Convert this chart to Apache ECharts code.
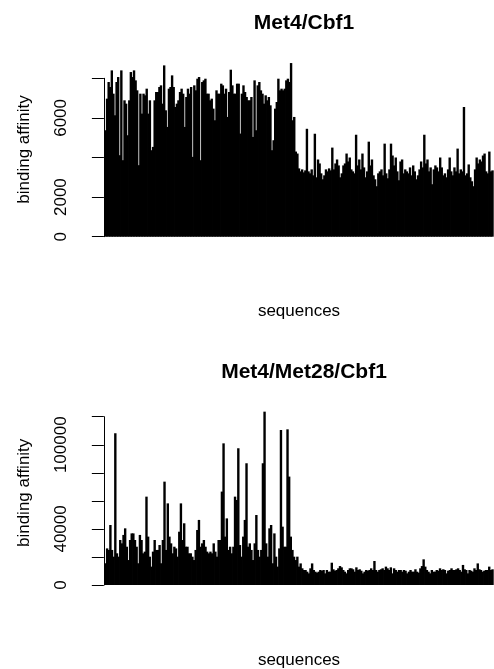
<!DOCTYPE html>
<html>
<head>
<meta charset="utf-8">
<script src="https://cdn.jsdelivr.net/npm/echarts@6/dist/echarts.min.js"></script>
<style>
  html, body { margin: 0; padding: 0; background: #fff; }
  #chart { width: 494px; height: 669px; }
</style>
</head>
<body>
<div id="chart"></div>
<script>
// binding affinity per sequence
var cbf1Affinity = [
  5376, 6972, 7812, 7560, 8400, 7224, 6132, 7812, 8064, 4116,
  8400, 3864, 6888, 6720, 5124, 6888, 8316, 8064, 8400, 7896,
  7392, 3612, 7224, 6216, 7224, 7140, 7476, 6216, 6888, 4368,
  4536, 6888, 7308, 7308, 7560, 7644, 6720, 8652, 6384, 5544,
  7476, 7560, 8148, 7560, 6552, 6720, 6888, 7308, 7476, 7224,
  5544, 7056, 7476, 7224, 7560, 4032, 7644, 7392, 7980, 8064,
  3864, 7812, 7896, 7980, 7224, 7224, 6888, 6972, 6468, 5880,
  7392, 7224, 7224, 7728, 7644, 7224, 7476, 6048, 7308, 8434,
  7644, 7224, 7224, 7728, 7728, 5208, 7224, 7644, 7308, 7056,
  6888, 6888, 7056, 5040, 7896, 5376, 7644, 7812, 7392, 7224,
  6720, 7140, 6888, 7056, 6636, 4368, 4872, 6468, 6804, 7980,
  7392, 7476, 7392, 7476, 7896, 7980, 7812, 8770, 5880, 6048,
  4300, 4200, 3450, 3300, 3400, 3250, 3350, 5450, 3300, 3200,
  3400, 3100, 5200, 3000, 3900, 3700, 3200, 2900, 3100, 3400,
  3300, 3450, 3350, 4500, 3400, 3700, 3900, 3600, 3000, 3200,
  3600, 3700, 4200, 3800, 4000, 3400, 3300, 3200, 5150, 3600,
  3900, 3400, 4200, 3500, 3000, 3300, 4800, 3600, 3900, 3100,
  2900, 2550, 3200, 3300, 3400, 3100, 4700, 3200, 2950, 3400,
  4700, 4100, 3600, 4000, 3300, 2850, 3800, 3900, 3200, 3400,
  3300, 3200, 3500, 3100, 3600, 3300, 2900, 3100, 3400, 3800,
  3500, 5150, 3700, 3900, 3300, 3500, 2650, 3400, 3600, 3500,
  3300, 4000, 3500, 3100, 3200, 3000, 3400, 4000, 3300, 3100,
  3500, 3300, 4450, 3200, 3400, 3300, 6550, 3100, 3200, 3650,
  3000, 2800, 2550, 3400, 4000, 3700, 3900, 3800, 4100, 4200,
  3300, 3200, 4300, 3300, 3350
];

var met28Affinity = [
  15500, 26100, 25000, 42800, 25000, 20200, 108200, 22600, 20200, 32100,
  29700, 35700, 40400, 27300, 17800, 32100, 36800, 36800, 32100, 27300,
  15500, 35700, 32100, 22600, 23800, 63000, 34500, 20200, 13100, 23800,
  32100, 25000, 25000, 28500, 15500, 32100, 73700, 25000, 58200, 34500,
  29700, 22600, 27300, 26100, 20200, 38000, 58200, 32100, 44000, 27300,
  27300, 22600, 22600, 20200, 17800, 25000, 39200, 46400, 27300, 29700,
  32100, 27300, 23800, 22600, 23800, 22600, 29700, 23800, 20200, 32100,
  32100, 66600, 101000, 34500, 47500, 25000, 27300, 22600, 27300, 63000,
  60600, 97500, 28500, 20200, 34500, 46400, 86800, 27300, 29700, 25000,
  17800, 29700, 49900, 25000, 20200, 25000, 86800, 123600, 29700, 20200,
  40400, 42800, 15500, 36800, 20200, 13100, 26100, 110500, 41600, 27300,
  27300, 111000, 77300, 34500, 25000, 20200, 17800, 20200, 13100,
  15400, 11900, 10700, 10700, 9500, 8300, 11900, 15400, 10700, 9500,
  8800, 9500, 10700, 10200, 10700, 8300, 10700, 9500, 9500, 15900,
  11200, 10200, 10700, 11900, 13500, 12600, 10700, 9500, 8300, 10700,
  11900, 11900, 11200, 9500, 12600, 10700, 11200, 10200, 8300, 9500,
  10700, 10200, 10700, 11900, 10700, 17100, 10700, 9500, 10700, 11200,
  11900, 10700, 13100, 11900, 10700, 12600, 8300, 11900, 10700, 9500,
  10700, 10700, 9500, 10700, 10200, 8300, 9500, 10700, 9500, 9500,
  11200, 9500, 8800, 11900, 13500, 18300, 13100, 10700, 9500, 8300,
  10700, 9500, 9500, 10700, 10200, 11900, 10700, 11200, 10700, 8300,
  10200, 10700, 11900, 10700, 10700, 11200, 11900, 10700, 9500, 14300,
  11200, 10700, 8300, 10700, 10200, 9500, 11900, 10700, 15400, 11200,
  10700, 9500, 10200, 10700, 10700, 13100, 10700, 11200
];

var panelTitles = ['Met4/Cbf1', 'Met4/Met28/Cbf1'];
var cbf1Ticks = { min: 0, max: 8000, step: 2000 };
var met28Ticks = { min: 0, max: 120000, step: 20000 };
// R drops the labels that would overlap
var cbf1Labels = [0, 2000, 6000];
var met28Labels = [0, 40000, 100000];

var font = '"Liberation Sans", Arial, Helvetica, sans-serif';

function xRange(n) {
  // R's default 4% padding around 1..n
  var pad = 0.04 * (n - 1);
  return { min: 1 - pad, max: n + pad };
}

function makeX(idx, n) {
  var r = xRange(n);
  return {
    type: 'value', gridIndex: idx, min: r.min, max: r.max,
    axisLine: { show: false }, axisTick: { show: false },
    axisLabel: { show: false }, splitLine: { show: false },
    name: 'sequences', nameLocation: 'middle', nameGap: idx === 0 ? 66 : 67,
    nameTextStyle: { fontFamily: font, fontSize: 17, color: '#000' }
  };
}

function makeY(idx, ticks, shown) {
  return {
    type: 'value', gridIndex: idx,
    min: ticks.min, max: ticks.max, interval: ticks.step,
    axisLine: { show: true, lineStyle: { color: '#000', width: 1 } },
    axisTick: { show: true, length: 12, lineStyle: { color: '#000', width: 1 } },
    axisLabel: {
      rotate: 90, margin: 20, fontFamily: font, fontSize: 17, color: '#000',
      formatter: function (v) { return shown.indexOf(v) >= 0 ? String(v) : ''; }
    },
    splitLine: { show: false },
    name: 'binding affinity', nameLocation: 'middle', nameRotate: 90, nameGap: 57,
    nameTextStyle: { fontFamily: font, fontSize: 17, color: '#000', padding: [0, 0, 0, 16] }
  };
}

function makeBars(idx, values) {
  return {
    type: 'bar', xAxisIndex: idx, yAxisIndex: idx,
    data: values.map(function (v, i) { return [i + 1, v]; }),
    barWidth: 2.4, clip: false, silent: true,
    itemStyle: { color: '#000' }
  };
}

var chart = echarts.init(document.getElementById('chart'), null, { renderer: 'canvas' });

chart.setOption({
  animation: false,
  backgroundColor: '#fff',
  title: panelTitles.map(function (t, i) {
    return {
      text: t, left: 299, top: i === 0 ? 8 : 357, textAlign: 'center',
      textStyle: { fontFamily: font, fontSize: 21, fontWeight: 'bold', color: '#000' }
    };
  }),
  grid: [
    { left: 90, top: 78.3, width: 418, height: 158.4, outerBoundsMode: 'none' },
    { left: 90, top: 416.7, width: 418, height: 168.3, outerBoundsMode: 'none' }
  ],
  xAxis: [makeX(0, cbf1Affinity.length), makeX(1, met28Affinity.length)],
  yAxis: [makeY(0, cbf1Ticks, cbf1Labels), makeY(1, met28Ticks, met28Labels)],
  series: [makeBars(0, cbf1Affinity), makeBars(1, met28Affinity)]
});
</script>
</body>
</html>
